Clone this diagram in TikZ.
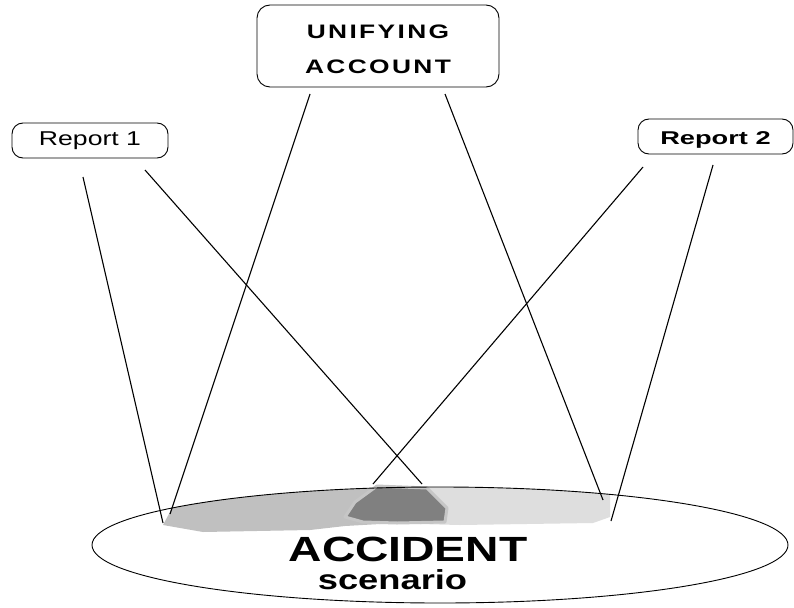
\documentclass[tikz,border=0pt]{standalone}
\usepackage{fontspec}
\setmainfont{Liberation Sans}
\usepackage{graphicx}
\usetikzlibrary{shapes.geometric}
\definecolor{medgray}{HTML}{C0C0C0}
\definecolor{litegray}{HTML}{DEDEDE}
\definecolor{deepgray}{HTML}{808080}
\definecolor{rimgray}{HTML}{C6C6C6}
\begin{document}
\begin{tikzpicture}[x=1pt,y=-1pt,
  box/.style={draw, rounded corners=11pt, line width=0.9pt, inner sep=0pt},
  ray/.style={line width=1.1pt}]
\useasboundingbox (0,0) rectangle (794,607);
\fill[white] (0,0) rectangle (794,607);

% shaded parts of the scenario, kept inside the ellipse
\begin{scope}
\clip (440,545) ellipse [x radius=348pt, y radius=58pt];
\fill[medgray] (163,525) -- (170,512) -- (182,480) -- (380,470)
  -- (400,505) -- (380,524) -- (345,526) -- (310,530) -- (203,532) -- cycle;
\fill[litegray] (410,470) -- (610,470) -- (610,517)
  -- (593,523) -- (460,525) -- (420,524) -- cycle;
\end{scope}
\filldraw[fill=deepgray, draw=rimgray, line width=3pt, line join=round]
  (345,517) -- (355,502) -- (377,486) -- (427,488) -- (447,508) -- (445,522)
  -- (397,523) -- (363,522) -- cycle;

% scenario ellipse
\node[ellipse, draw, line width=0.9pt, minimum width=696pt, minimum height=116pt, inner sep=0pt] (scene) at (440,545) {};
\node[anchor=base, inner sep=0pt] (acctext) at (408,561)
  {\fontsize{35}{38}\selectfont\bfseries\scalebox{1.32}[1]{ACCIDENT}};
\node[anchor=base, inner sep=0pt] (scentext) at (392.5,589)
  {\fontsize{27.5}{30}\selectfont\bfseries\scalebox{1.32}[1]{scenario}};

% boxes
\node[box, minimum width=156pt, minimum height=35pt] (r1) at (90,140.5)
  {\fontsize{20}{22}\selectfont\scalebox{1.33}[1]{Report 1}};
\node[box, minimum width=155pt, minimum height=35pt] (r2) at (715.5,136.5)
  {\fontsize{18.5}{22}\selectfont\bfseries\rule{0pt}{19.3pt}\scalebox{1.47}[1]{Report 2}};
\node[box, rounded corners=13pt, minimum width=242pt, minimum height=82pt, align=center,
  font=\fontsize{19.5}{35}\selectfont\bfseries\addfontfeature{LetterSpace=9}] (u) at (378,46)
  {\rule{0pt}{20.5pt}\scalebox{1.35}[1]{UNIFYING}\\\scalebox{1.35}[1]{ACCOUNT}};

% connector ends
\coordinate (a1) at (83,177);
\coordinate (a2) at (145,170);
\coordinate (u1) at (310,94);
\coordinate (u2) at (445,94);
\coordinate (b1) at (643,167);
\coordinate (b2) at (713,165);
\coordinate (ea1) at (163,523);
\coordinate (ea2) at (422,484);
\coordinate (eu1) at (170,514);
\coordinate (eu2) at (603,500);
\coordinate (eb1) at (373,484);
\coordinate (eb2) at (611,521);

\draw[ray] (a1) -- (ea1);
\draw[ray] (a2) -- (ea2);
\draw[ray] (u1) -- (eu1);
\draw[ray] (u2) -- (eu2);
\draw[ray] (b1) -- (eb1);
\draw[ray] (b2) -- (eb2);
\end{tikzpicture}
\end{document}
